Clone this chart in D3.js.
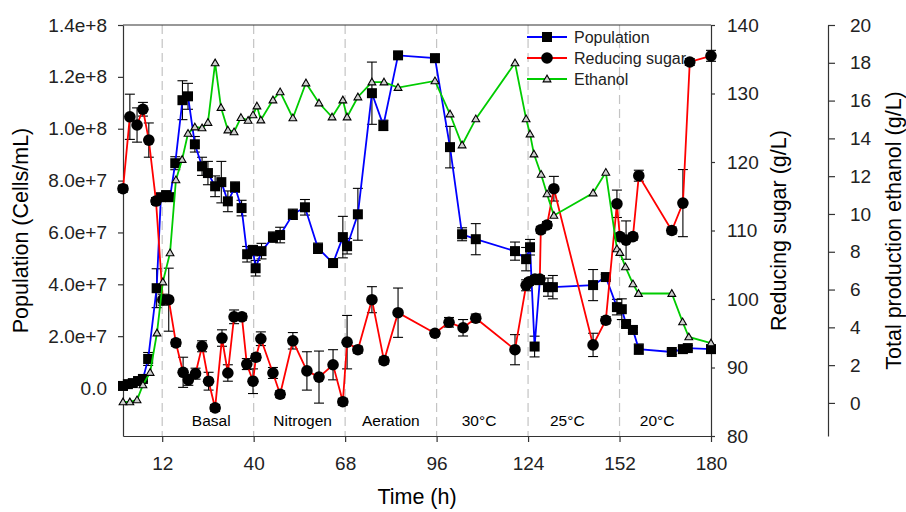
<!DOCTYPE html>
<html>
<head>
<meta charset="utf-8">
<script src="https://cdn.jsdelivr.net/npm/d3@7"></script>
<style>
	body { margin: 0; background: #fff; }
	svg { display: block; font-family: "Liberation Sans", Arial, sans-serif; }
</style>
</head>
<body>
<div id="chart"></div>
<script>
"use strict";

//---- Data
const phaseBreaks = [12, 40, 68, 96, 124, 152];
const phaseLabels = ['Basal', 'Nitrogen', 'Aeration', '30°C', '25°C', '20°C'];
const phaseLabelTimes = [27, 55, 82, 109, 136, 163.5];
const timeTicks = [12, 40, 68, 96, 124, 152, 180];

// population, cells/mL (x1e7)
const popTime = [0, 1.5, 3, 4.6, 6.1, 7.7, 10.3, 11.6, 13.2, 14.4, 16, 18.2, 19.9, 22, 24.2,
	26, 28.2, 30.1, 32.1, 34.3, 36.3, 38, 39.8, 40.6, 42.4, 45.9, 48.1, 52, 55.7, 59.7,
	64.3, 67.3, 68.6, 71.9, 76.2, 79.7, 84.2, 95.5, 100.1, 103.8, 108, 120, 123.4, 124.6, 126,
	127.6, 130.1, 131.6, 143.9, 147.8, 151.2, 152.7, 154, 156.1, 157.9, 168, 171.4, 172.9, 180];
const popValue = [0.08, 0.15, 0.19, 0.27, 0.35, 1.12, 3.85, 7.36, 7.44, 7.36, 8.67, 11.1, 11.25, 9.4, 8.55,
	8.29, 7.78, 7.94, 7.2, 7.75, 6.94, 5.16, 5.3, 4.62, 5.28, 5.82, 5.9, 6.7, 6.97, 5.39,
	4.82, 5.82, 5.47, 6.7, 11.37, 10.13, 12.83, 12.72, 9.29, 5.93, 5.74, 5.28, 4.97, 5.43, 1.6,
	4.16, 3.89, 3.89, 3.97, 4.28, 3.12, 3.04, 2.47, 2.24, 1.5, 1.39, 1.5, 1.54, 1.5];
const popError = [0.1, 0.1, 0.1, 0.1, 0.1, 0.25, 0.75, 0.1, 0.15, 0.15, 0.25, 0.75, 0.5, 0.3, 0.35,
	0.45, 0.4, 0.8, 0.4, 0.2, 0.3, 0.3, 0.2, 0.3, 0.3, 0.2, 0.3, 0.2, 0.3, 0.2,
	0.15, 0.8, 0.3, 1.0, 1.2, 0.2, 0.1, 0.15, 0.8, 0.25, 0.6, 0.35, 0.45, 0.3, 0.4,
	0.1, 0.35, 0.45, 0.6, 0.1, 0.3, 0.4, 0.1, 0.1, 0.2, 0.1, 0.1, 0.1, 0.15];

// reducing sugar, g/L
const sugarTime = [0, 2.1, 4.3, 6.1, 7.9, 10.1, 12.2, 14, 16.2, 18.4, 20, 22.2, 24.2, 26.2, 28.2,
	30.3, 32.1, 34, 36.4, 37.9, 39.8, 40.7, 42.2, 45.9, 48.1, 52, 56.3, 60, 64.3, 67.3,
	68.6, 71.9, 76.2, 79.9, 84.2, 95.5, 99.8, 104.1, 108, 120, 123.4, 124.3, 126.1, 127.6, 127.9,
	129.8, 131.9, 143.9, 147.8, 151.2, 152.1, 154, 156.1, 157.9, 168, 171.4, 173.5, 180];
const sugarValue = [116.1, 126.6, 125.4, 127.7, 123.2, 114.3, 99.9, 99.9, 93.6, 89.3, 88.2, 89.1, 93.1, 88.0, 84.1,
	94.3, 89.2, 97.4, 97.4, 90.5, 88.0, 91.5, 94.2, 89.2, 86.1, 93.9, 89.5, 88.6, 90.4, 85.0,
	93.7, 92.6, 99.9, 91.0, 98.0, 95.0, 96.6, 95.8, 97.2, 92.6, 102.0, 102.5, 102.9, 102.9, 110.1,
	110.8, 116.1, 93.3, 96.9, 113.9, 109.1, 108.6, 109.1, 118.0, 110.0, 114.0, 134.6, 135.5];
const sugarError = [0.5, 3.3, 2.5, 1.0, 2.5, 0.5, 0.8, 4.6, 0.5, 2.2, 0.8, 0.8, 0.8, 1.3, 0.5,
	1.2, 1.2, 1.0, 0.5, 0.8, 1.8, 0.5, 1.0, 0.8, 0.5, 1.2, 2.8, 3.8, 2.2, 0.5,
	3.9, 0.5, 1.9, 0.5, 3.6, 0.4, 0.7, 1.2, 0.6, 2.2, 0.8, 0.5, 0.5, 0.5, 0.5,
	0.5, 1.8, 1.7, 0.5, 2.0, 0.5, 2.8, 0.5, 0.8, 0.5, 4.9, 0.5, 0.8];

// total ethanol, g/L
const ethTime = [0, 2.1, 4.3, 6.1, 8.3, 10.4, 12.2, 14.4, 16.2, 18.1, 19.9, 22, 24.2, 26, 28.2,
	30, 32.1, 34, 36.1, 38.3, 39.8, 41, 42.2, 45.9, 48.1, 52, 56, 60, 64, 67.3,
	68.6, 71.9, 76.2, 79.9, 84.2, 95.5, 100.1, 103.8, 108, 120, 123.4, 124.6, 125.8, 128, 129.8,
	131.9, 143.9, 147.8, 151.2, 152.1, 153.8, 156.1, 157.8, 168, 171.3, 173.2, 180];
const ethValue = [0.05, 0.05, 0.16, 0.95, 1.61, 3.7, 6.4, 7.94, 11.8, 12.88, 14.26, 14.6, 14.55, 14.84, 17.99,
	15.63, 14.44, 14.34, 15.1, 14.95, 15.24, 15.71, 14.97, 16.03, 16.46, 15.08, 16.93, 15.87, 15.13, 16.03,
	15.13, 16.19, 16.98, 16.98, 16.69, 17.04, 15.29, 13.65, 15.03, 17.99, 15.03, 14.23, 13.17, 12.09, 11.06,
	9.92, 11.11, 12.2, 8.15, 7.96, 7.2, 6.3, 5.79, 5.79, 4.29, 3.49, 3.17];

const pop = popTime.map((t, i) => ({ t: t, v: popValue[i] * 1e7, e: popError[i] * 1e7 }));
const sugar = sugarTime.map((t, i) => ({ t: t, v: sugarValue[i], e: sugarError[i] }));
const eth = ethTime.map((t, i) => ({ t: t, v: ethValue[i] }));


//---- Layout
const width = 906, height = 512;
const plotLeft = 123, plotRight = 711, plotTop = 25, plotBottom = 436;
const ethAxisX = 828;

const x = d3.scaleLinear().domain([0, 180]).range([plotLeft, plotRight]);
const yPop = d3.scaleLinear().domain([-1.85e7, 1.4e8]).range([plotBottom, plotTop]);
const ySugar = d3.scaleLinear().domain([80, 140]).range([plotBottom, plotTop]);
const yEth = d3.scaleLinear().domain([-1.75, 20]).range([plotBottom, plotTop]);

const svg = d3.select('#chart').append('svg')
	.attr('width', width)
	.attr('height', height);


//---- Phase separators
svg.selectAll('.phase')
	.data(phaseBreaks)
	.join('line')
	.attr('x1', d => x(d)).attr('x2', d => x(d))
	.attr('y1', plotTop).attr('y2', plotBottom)
	.attr('stroke', '#c4c4c4')
	.attr('stroke-width', 1.2)
	.attr('stroke-dasharray', '9,5');

svg.selectAll('.phase-label')
	.data(phaseLabels)
	.join('text')
	.attr('x', (d, i) => x(phaseLabelTimes[i]))
	.attr('y', 426)
	.attr('text-anchor', 'middle')
	.attr('font-size', 15.5)
	.text(d => d);


//---- Axes
const axisColor = '#333';

const xAxis = svg.append('g')
	.attr('transform', `translate(0,${plotBottom})`)
	.call(d3.axisBottom(x).tickValues(timeTicks).tickSize(6).tickSizeOuter(0).tickPadding(15));

const popAxis = svg.append('g')
	.attr('transform', `translate(${plotLeft},0)`)
	.call(d3.axisLeft(yPop)
		.tickValues(d3.range(0, 1.41e8, 2e7))
		.tickFormat(d => d === 0 ? '0.0' : d3.format('.1e')(d))
		.tickSize(5).tickSizeOuter(0).tickPadding(11));

const sugarAxis = svg.append('g')
	.attr('transform', `translate(${plotRight},0)`)
	.call(d3.axisRight(ySugar).tickValues(d3.range(80, 141, 10)).tickSize(4).tickSizeOuter(0).tickPadding(12));

const ethAxis = svg.append('g')
	.attr('transform', `translate(${ethAxisX},0)`)
	.call(d3.axisRight(yEth).tickValues(d3.range(0, 21, 2)).tickSize(7).tickSizeOuter(0).tickPadding(15));

[xAxis, popAxis, sugarAxis, ethAxis].forEach(g => {
	g.selectAll('path, line').attr('stroke', axisColor).attr('stroke-width', 1.2);
	g.selectAll('text').attr('font-size', 19).attr('fill', '#222')
		.attr('font-family', '"Liberation Sans", Arial, sans-serif');
});

// top border of the frame
svg.append('line')
	.attr('x1', plotLeft).attr('x2', plotRight)
	.attr('y1', plotTop).attr('y2', plotTop)
	.attr('stroke', axisColor).attr('stroke-width', 1.2);

const titleSize = 21.5;
svg.append('text')
	.attr('transform', `translate(28,${(plotTop + plotBottom) / 2}) rotate(-90)`)
	.attr('text-anchor', 'middle').attr('font-size', titleSize)
	.text('Population (Cells/mL)');

svg.append('text')
	.attr('transform', `translate(786,${(plotTop + plotBottom) / 2}) rotate(-90)`)
	.attr('text-anchor', 'middle').attr('font-size', titleSize)
	.text('Reducing sugar (g/L)');

svg.append('text')
	.attr('transform', `translate(901,${(plotTop + plotBottom) / 2}) rotate(-90)`)
	.attr('text-anchor', 'middle').attr('font-size', titleSize)
	.text('Total production ethanol (g/L)');

svg.append('text')
	.attr('x', (plotLeft + plotRight) / 2).attr('y', 504)
	.attr('text-anchor', 'middle').attr('font-size', titleSize)
	.text('Time (h)');


//---- Legend
const legend = [
	{ name: 'Population', color: '#0000ff', marker: 'square' },
	{ name: 'Reducing sugar', color: '#ff0000', marker: 'circle' },
	{ name: 'Ethanol', color: '#00cc00', marker: 'triangle' }
];

const triangle = d3.symbol().type(d3.symbolTriangle).size(26);

function drawMarker(sel, type) {
	if (type === 'square') {
		sel.append('rect')
			.attr('x', -5).attr('y', -5).attr('width', 10).attr('height', 10)
			.attr('fill', '#000');
	} else if (type === 'circle') {
		sel.append('circle').attr('r', 5.8).attr('fill', '#000');
	} else {
		sel.append('path').attr('d', triangle)
			.attr('transform', 'translate(0,0.6)')
			.attr('fill', '#d0d0d0').attr('stroke', '#000').attr('stroke-width', 1.1);
	}
}

const legendItems = svg.selectAll('.legend')
	.data(legend)
	.join('g')
	.attr('transform', (d, i) => `translate(527,${37 + i * 21})`);

legendItems.append('line')
	.attr('x1', 0).attr('x2', 40)
	.attr('stroke', d => d.color).attr('stroke-width', 1.8);

legendItems.each(function (d) {
	drawMarker(d3.select(this).append('g').attr('transform', 'translate(20,0)'), d.marker);
});

legendItems.append('text')
	.attr('x', 47).attr('dy', '0.35em')
	.attr('font-size', 16).attr('fill', '#222')
	.text(d => d.name);


//---- Series
function drawErrors(data, yScale) {
	const g = svg.append('g').attr('stroke', '#000').attr('stroke-width', 1.1);
	data.forEach(d => {
		const cx = x(d.t), y1 = yScale(d.v - d.e), y2 = yScale(d.v + d.e);
		g.append('line').attr('x1', cx).attr('x2', cx).attr('y1', y1).attr('y2', y2);
		g.append('line').attr('x1', cx - 5).attr('x2', cx + 5).attr('y1', y1).attr('y2', y1);
		g.append('line').attr('x1', cx - 5).attr('x2', cx + 5).attr('y1', y2).attr('y2', y2);
	});
}

function drawSeries(data, yScale, color, marker) {
	svg.append('path')
		.datum(data)
		.attr('fill', 'none')
		.attr('stroke', color)
		.attr('stroke-width', 1.8)
		.attr('d', d3.line().x(d => x(d.t)).y(d => yScale(d.v)));

	svg.append('g').selectAll('g')
		.data(data)
		.join('g')
		.attr('transform', d => `translate(${x(d.t)},${yScale(d.v)})`)
		.each(function () { drawMarker(d3.select(this), marker); });
}

drawErrors(pop, yPop);
drawSeries(pop, yPop, '#0000ff', 'square');

drawErrors(sugar, ySugar);
drawSeries(sugar, ySugar, '#ff0000', 'circle');

drawSeries(eth, yEth, '#00cc00', 'triangle');
</script>
</body>
</html>
